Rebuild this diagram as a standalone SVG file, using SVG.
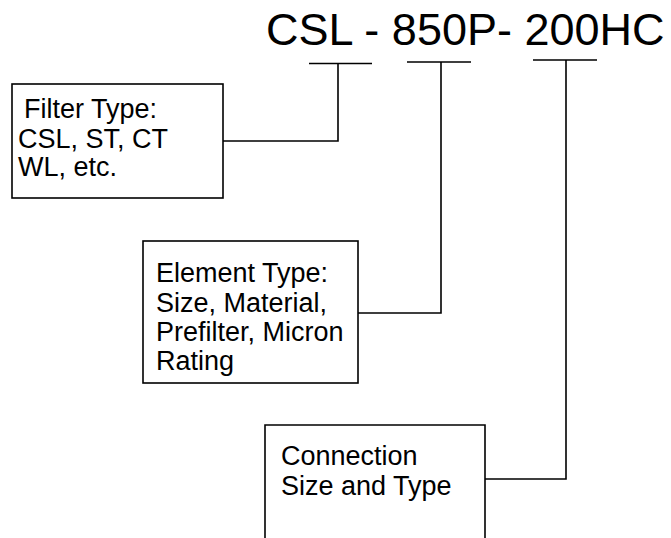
<svg xmlns="http://www.w3.org/2000/svg" width="671" height="538" viewBox="0 0 671 538">
<style>
.box{fill:#fff;stroke:#000;stroke-width:1.6}
.ln{fill:none;stroke:#000;stroke-width:1.6}
.t{font-family:"Liberation Sans",Arial,sans-serif;font-size:27px;fill:#000}
.title{font-family:"Liberation Sans",Arial,sans-serif;font-size:45px;fill:#000}
</style>
<rect width="671" height="538" fill="#fff"/>
<g id="title"><text class="title" x="266" y="45">CSL - 850P- 200HC</text></g>
<g id="connectors">
<path class="ln" d="M309,63.5H372M338,63.5V141H223"/>
<path class="ln" d="M407,62H471M441,62V313H358"/>
<path class="ln" d="M533,60H597M566,60V479H485"/>
</g>
<g id="filter-type">
<rect class="box" x="12" y="84" width="211" height="114"/>
<text class="t" x="24" y="118">Filter Type:</text>
<text class="t" x="18" y="147.5">CSL, ST, CT</text>
<text class="t" x="18" y="176">WL, etc.</text>
</g>
<g id="element-type">
<rect class="box" x="143" y="241" width="215" height="142"/>
<text class="t" x="156" y="282">Element Type:</text>
<text class="t" x="156" y="311.5">Size, Material,</text>
<text class="t" x="156" y="341">Prefilter, Micron</text>
<text class="t" x="156" y="370">Rating</text>
</g>
<g id="connection">
<path class="box" d="M265,540V425H485V540"/>
<text class="t" x="281" y="465">Connection</text>
<text class="t" x="281" y="495">Size and Type</text>
</g>
</svg>
